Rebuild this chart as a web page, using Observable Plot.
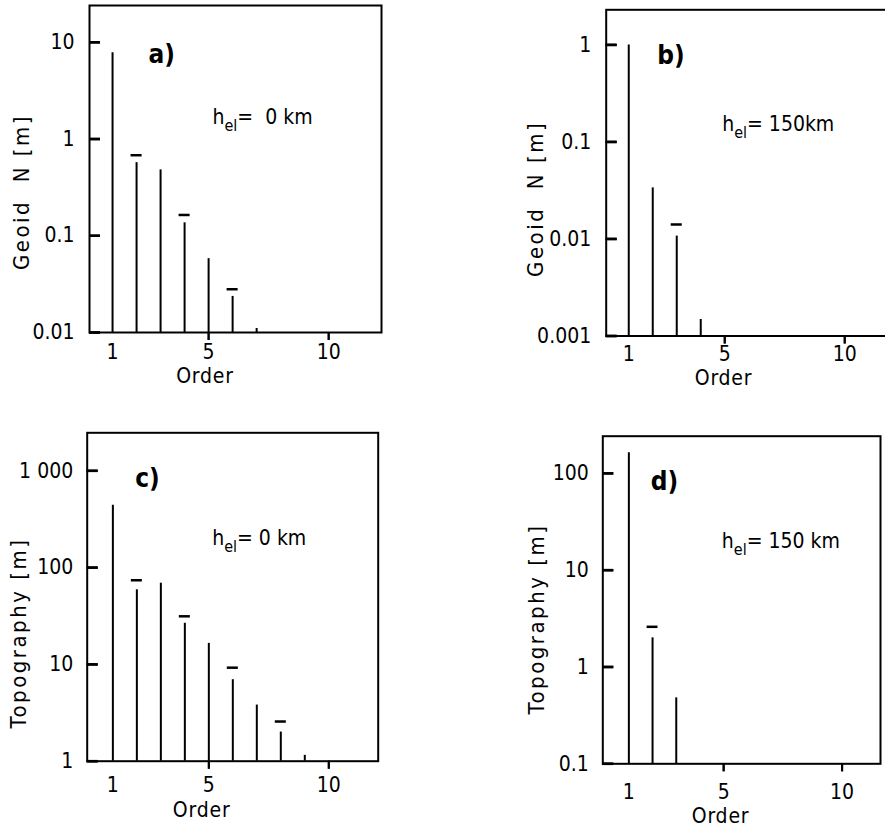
<!DOCTYPE html>
<html>
<head>
<meta charset="utf-8">
<script src="https://cdn.jsdelivr.net/npm/d3@7"></script>
<script src="https://cdn.jsdelivr.net/npm/@observablehq/plot@0.6"></script>
<style>
  html, body { margin: 0; padding: 0; background: #fff; }
  #wrap { position: relative; width: 885px; height: 837px; overflow: hidden; background: #fff; }
  #wrap svg { position: absolute; white-space: pre; }
</style>
</head>
<body>
<div id="wrap"></div>
<script>
// ---- data ----
const geoid0Orders = [1, 2, 3, 4, 5, 6, 7];
const geoid0Values = [7.8, 0.57, 0.48, 0.136, 0.058, 0.0236, 0.011];
const geoid0DashOrders = [2, 4, 6];
const geoid0DashValues = [0.68, 0.164, 0.028];

const geoid150Orders = [1, 2, 3, 4];
const geoid150Values = [1.0, 0.0336, 0.0107, 0.00148];
const geoid150DashOrders = [3];
const geoid150DashValues = [0.0141];

const topo0Orders = [1, 2, 3, 4, 5, 6, 7, 8, 9];
const topo0Values = [441, 59, 69, 26.6, 16.5, 6.95, 3.8, 2.0, 1.15];
const topo0DashOrders = [2, 4, 6, 8];
const topo0DashValues = [74, 31.4, 9.25, 2.57];

const topo150Orders = [1, 2, 3];
const topo150Values = [163, 2.0, 0.48];
const topo150DashOrders = [2];
const topo150DashValues = [2.6];

const xTickLabels = [1, 5, 10];
const xMinorTicks = [5, 10];

const geoid0YTicks = [0.01, 0.1, 1, 10];
const geoid0YLabels = ["0.01", "0.1", "1", "10"];
const geoid150YTicks = [0.001, 0.01, 0.1, 1];
const geoid150YLabels = ["0.001", "0.01", "0.1", "1"];
const topo0YTicks = [1, 10, 100, 1000];
const topo0YLabels = ["1", "10", "100", "1 000"];
const topo150YTicks = [0.1, 1, 10, 100];
const topo150YLabels = ["0.1", "1", "10", "100"];

const FONT = "'DejaVu Sans Condensed', 'DejaVu Sans', sans-serif";

function panel(cfg) {
  const fw = cfg.width - cfg.mL - cfg.mR;
  const fh = cfg.height - cfg.mT - cfg.mB;
  const x0 = cfg.xDomain[0];
  const tickLen = (cfg.xDomain[1] - cfg.xDomain[0]) * 11 / fw;
  const yBase = cfg.yDomain[0];
  const yBelow = yBase * Math.pow(cfg.yDomain[1] / yBase, -8 / fh);
  // vertical segments: spectral bars + outward x ticks
  const vsegs = [
    ...cfg.orders.map((o, i) => ({x: o, a: yBase, b: cfg.values[i], w: 2})),
    ...xMinorTicks.map(t => ({x: t, a: yBelow, b: yBase, w: 2}))
  ];
  // horizontal segments: comparison dashes + inward y ticks
  const hsegs = [
    ...cfg.dashOrders.map((o, i) => ({y: cfg.dashValues[i], a: o - 0.23, b: o + 0.23, w: 2.5})),
    ...cfg.yTicks.map(t => ({y: t, a: x0, b: x0 + tickLen, w: 2.5}))
  ];
  const labelOf = new Map(cfg.yTicks.map((t, i) => [t, cfg.yLabels[i]]));
  const svg = Plot.plot({
    width: cfg.width,
    height: cfg.height,
    marginLeft: cfg.mL, marginRight: cfg.mR, marginTop: cfg.mT, marginBottom: cfg.mB,
    style: {fontFamily: FONT, fontSize: "21px", background: "transparent", overflow: "visible", color: "#000"},
    x: {type: "linear", domain: cfg.xDomain, axis: null},
    y: {type: "log", domain: cfg.yDomain, axis: null},
    marks: [
      Plot.frame({stroke: "#000", strokeWidth: 2}),
      // tick marks (inward on y, outward on x) drawn by axis marks as well
      Plot.axisY(cfg.yTicks, {anchor: "left", tickSize: 11, dx: 11, tickFormat: () => "", strokeWidth: 2.5, stroke: "#000", label: null}),
      Plot.axisX(xMinorTicks, {anchor: "bottom", tickSize: 8, tickFormat: () => "", strokeWidth: 2, stroke: "#000", label: null}),
      // tick labels
      Plot.axisY(cfg.yTicks, {anchor: "left", tickSize: 0, tickPadding: cfg.yPad, tickFormat: d => labelOf.get(d), fontSize: 21, label: null}),
      Plot.axisX(xTickLabels, {anchor: "bottom", tickSize: 0, tickPadding: cfg.xPad, tickFormat: d => String(d), fontSize: 21, label: null}),
      Plot.ruleX(vsegs, {x: "x", y1: "a", y2: "b", stroke: "#000", strokeWidth: "w"}),
      Plot.ruleY(hsegs, {y: "y", x1: "a", x2: "b", stroke: "#000", strokeWidth: "w"}),
      // panel tag
      Plot.text([cfg.tag], {text: d => d, frameAnchor: "top-left", textAnchor: "start", dx: cfg.tagDx, dy: cfg.tagDy, fontSize: 26, fontWeight: "bold"}),
      // elastic thickness label
      Plot.text([cfg.hel], {text: d => d, frameAnchor: "top-left", textAnchor: "start", lineAnchor: "bottom", dx: cfg.helDx, dy: cfg.helDy, fontSize: 21}),
      // axis titles
      Plot.text(["Order"], {text: d => d, x: () => cfg.orderX, frameAnchor: "bottom", dy: cfg.orderDy, fontSize: 21}),
      Plot.text([cfg.yLabel], {text: d => d, frameAnchor: "left", textAnchor: "middle", rotate: -90, dx: cfg.yLabelDx, dy: cfg.yLabelDy, fontSize: 22})
    ]
  });
  svg.style.left = cfg.left + "px";
  svg.style.top = cfg.top + "px";
  const ns = "http://www.w3.org/2000/svg";
  svg.querySelectorAll("text").forEach(t => {
    const s = t.textContent;
    if (s.includes("|")) {
      // subscript for h_el
      const parts = s.split("|");
      t.textContent = "";
      const a = document.createElementNS(ns, "tspan"); a.textContent = parts[0];
      const b = document.createElementNS(ns, "tspan"); b.textContent = parts[1];
      b.setAttribute("font-size", "16"); b.setAttribute("dy", "7");
      const c = document.createElementNS(ns, "tspan"); c.textContent = parts[2];
      c.setAttribute("dy", "-7");
      t.append(a, b, c);
    } else if (s === cfg.yLabel) {
      t.style.letterSpacing = "2.5px";
    } else if (s === "Order") {
      t.style.letterSpacing = "0.8px";
    }
  });
  document.getElementById("wrap").appendChild(svg);
}

panel({
  left: 0, top: 0, width: 400, height: 400, mL: 89, mR: 19, mT: 5, mB: 68,
  xDomain: [0.04, 12.2], yDomain: [0.01, 24],
  orders: geoid0Orders, values: geoid0Values, dashOrders: geoid0DashOrders, dashValues: geoid0DashValues,
  yTicks: geoid0YTicks, yLabels: geoid0YLabels, yPad: 15, xPad: 12,
  tag: "a)", tagDx: 59, tagDy: 39,
  hel: "h|el|=  0 km", helDx: 123, helDy: 118,
  orderX: 4.85, orderDy: 50,
  yLabel: "Geoid  N [m]", yLabelDx: -68, yLabelDy: 23
});

panel({
  left: 440, top: 0, width: 470, height: 400, mL: 165.7, mR: 13, mT: 9.3, mB: 64.5,
  xDomain: [0.06, 12.2], yDomain: [0.001, 2.3],
  orders: geoid150Orders, values: geoid150Values, dashOrders: geoid150DashOrders, dashValues: geoid150DashValues,
  yTicks: geoid150YTicks, yLabels: geoid150YLabels, yPad: 15, xPad: 10,
  tag: "b)", tagDx: 51, tagDy: 36,
  hel: "h|el|= 150km", helDx: 116, helDy: 121,
  orderX: 4.95, orderDy: 49,
  yLabel: "Geoid  N [m]", yLabelDx: -70, yLabelDy: 26
});

panel({
  left: 0, top: 420, width: 400, height: 417, mL: 86.7, mR: 22.3, mT: 12.3, mB: 76.3,
  xDomain: [-0.07, 12.06], yDomain: [1, 2470],
  orders: topo0Orders, values: topo0Values, dashOrders: topo0DashOrders, dashValues: topo0DashValues,
  yTicks: topo0YTicks, yLabels: topo0YLabels, yPad: 14, xPad: 16,
  tag: "c)", tagDx: 48, tagDy: 36,
  hel: "h|el|= 0 km", helDx: 125, helDy: 112,
  orderX: 4.7, orderDy: 56,
  yLabel: "Topography [m]", yLabelDx: -68, yLabelDy: 36
});

panel({
  left: 440, top: 420, width: 445, height: 417, mL: 162.3, mR: 5, mT: 15.7, mB: 73.7,
  xDomain: [-0.1, 11.62], yDomain: [0.1, 242],
  orders: topo150Orders, values: topo150Values, dashOrders: topo150DashOrders, dashValues: topo150DashValues,
  yTicks: topo150YTicks, yLabels: topo150YLabels, yPad: 14, xPad: 20,
  tag: "d)", tagDx: 48, tagDy: 35,
  hel: "h|el|= 150 km", helDx: 119, helDy: 112,
  orderX: 4.87, orderDy: 59,
  yLabel: "Topography [m]", yLabelDx: -66, yLabelDy: 19
});
</script>
</body>
</html>
